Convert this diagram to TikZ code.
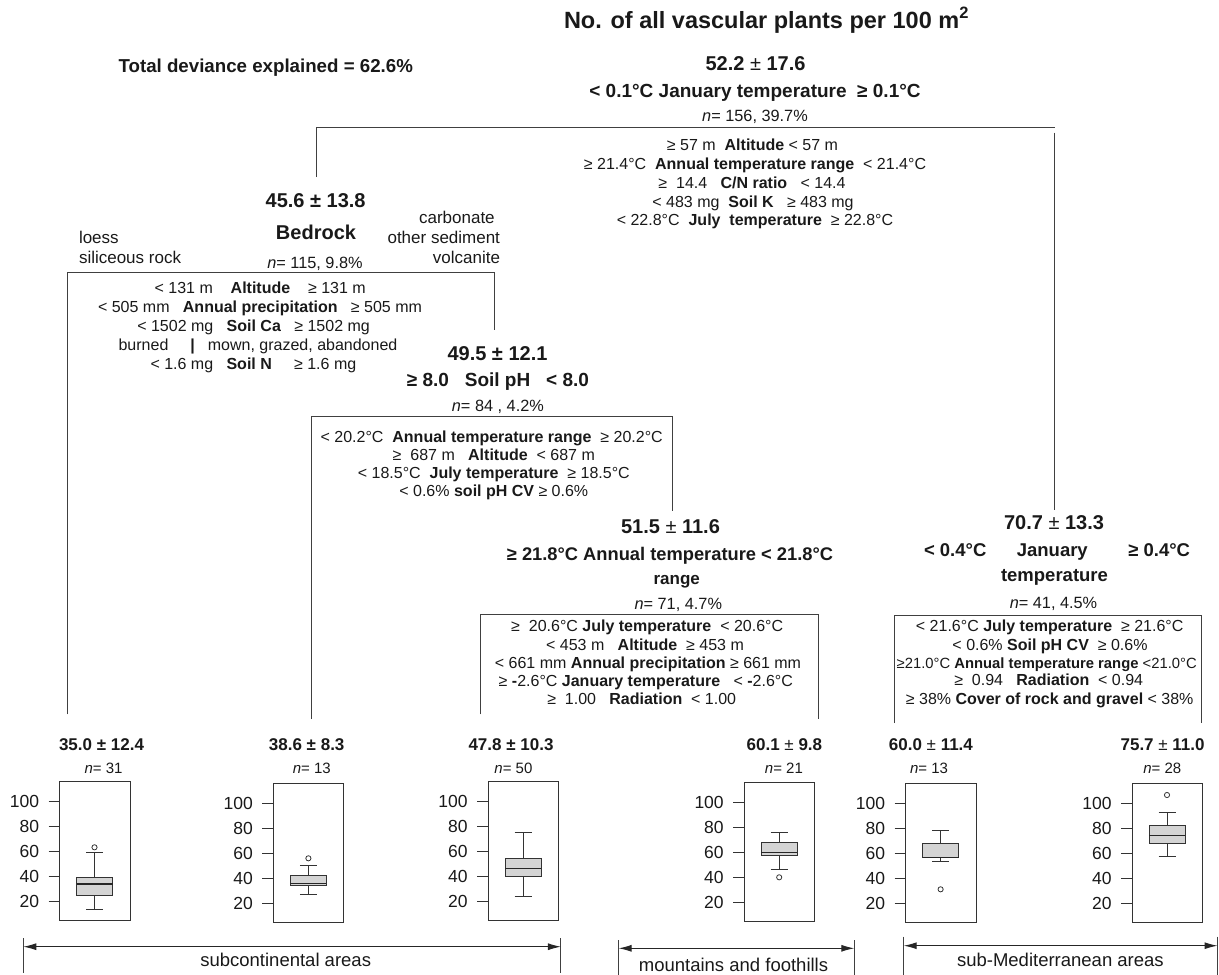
\documentclass[tikz,border=0pt]{standalone}
\usepackage{fontspec}
\setmainfont{Liberation Sans}
\usetikzlibrary{arrows.meta}
\newcommand\fs[1]{\fontsize{#1}{#1}\selectfont}
\tikzset{
 txt/.style={inner sep=0pt, outer sep=0pt, anchor=base, text=black!90},
 title/.style={txt, font=\fs{23.5}\bfseries},
 val/.style={txt, font=\fs{20}\bfseries},
 split/.style={txt, font=\fs{19}\bfseries},
 rule/.style={txt, font=\fs{16}},
 nlab/.style={txt, font=\fs{16.3}},
 side/.style={txt, font=\fs{17}},
 leafval/.style={txt, font=\fs{17}\bfseries},
 leafn/.style={txt, font=\fs{15}},
 axl/.style={txt, font=\fs{17.5}, anchor=east},
 region/.style={txt, font=\fs{18.5}},
 tree/.style={draw=black!75, line width=1pt},
 bxp/.style={draw=black!80, line width=0.8pt},
 bxfill/.style={bxp, fill=black!17},
 medline/.style={draw=black!85, line width=1.3pt},
 outl/.style={draw=black!80, line width=0.8pt},
 span/.style={draw=black!85, line width=1pt, {Latex[length=13pt,width=7pt]}-{Latex[length=13pt,width=7pt]}},
}
% #1 name, #2 frame left, #3 frame top, #4 low whisker, #5 q1, #6 median, #7 q3, #8 high whisker
\newcommand\leafplot[8]{%
\begin{scope}[shift={(#2,#3)}]
 \node[draw=black!80, line width=0.9pt, minimum width=70.5pt, minimum height=139pt, inner sep=0pt, outer sep=0pt, anchor=north west] (#1) at (0,0) {};
 \coordinate (#1-zero) at (35,145);
 \foreach \v in {20,40,60,80,100}{%
   \coordinate (#1-ta\v) at (-11,{145-1.25*\v});
   \coordinate (#1-tb\v) at (0,{145-1.25*\v});
   \draw[bxp] (#1-ta\v) -- (#1-tb\v);
   \node[axl] (#1-l\v) at (-20.5,{145-1.25*\v}) {\v};
 }
 \draw[bxp] (35,{145-1.25*#4}) -- (35,{145-1.25*#5});
 \draw[bxp] (26.5,{145-1.25*#4}) -- (43.5,{145-1.25*#4});
 \draw[bxp] (35,{145-1.25*#7}) -- (35,{145-1.25*#8});
 \draw[bxp] (26.5,{145-1.25*#8}) -- (43.5,{145-1.25*#8});
 \draw[bxfill] (17,{145-1.25*#5}) rectangle (53,{145-1.25*#7});
 \draw[medline] (17,{145-1.25*#6}) -- (53,{145-1.25*#6});
\end{scope}}
\begin{document}
\begin{tikzpicture}[x=1pt,y=-1pt]
\useasboundingbox (0,0) rectangle (1219,975);

% headings
\node[title, anchor=base west] (title) at (564,28) {No. of all vascular plants per 100 m\textsuperscript{2}};
\node[txt, font=\fs{18.7}\bfseries, anchor=base west] (dev) at (118.6,72) {Total deviance explained = 62.6\%};

% root node
\node[val] (n0) at (755.5,70.5) {52.2 {\mdseries ±} 17.6};
\node[split] (n0s) at (755,97.3) {< 0.1°C January temperature\ \ ≥ 0.1°C};
\node[nlab] (n0n) at (755,121.7) {\textit{n}= 156, 39.7\%};
\node[rule] (r1) at (752.5,150.7) {≥ 57 m\ \ \textbf{Altitude} < 57 m};
\node[rule] (r2) at (755,169.5) {≥ 21.4°C\ \ \textbf{Annual temperature range}\ \ < 21.4°C};
\node[rule] (r3) at (752,188.5) {≥\ \ 14.4\ \ \ \textbf{C/N ratio}\ \ \ < 14.4};
\node[rule] (r4) at (753,207) {< 483 mg\ \ \textbf{Soil K}\ \ \ ≥ 483 mg};
\node[rule] (r5) at (755,225.7) {< 22.8°C\ \ \textbf{July\ \ temperature}\ \ ≥ 22.8°C};

% bedrock node
\node[val] (n1) at (315.6,207) {45.6 ± 13.8};
\node[txt, font=\fs{20}\bfseries] (n1s) at (316,239) {Bedrock};
\node[nlab] (n1n) at (315,268) {\textit{n}= 115, 9.8\%};
\node[side, anchor=base west] (lo1) at (79,243) {loess};
\node[side, anchor=base west] (lo2) at (79,263) {siliceous rock};
\node[side, anchor=base east] (ca1) at (494.7,223) {carbonate};
\node[side, anchor=base east] (ca2) at (500,243) {other sediment};
\node[side, anchor=base east] (ca3) at (500,263) {volcanite};
\node[rule] (b1r1) at (260.2,293) {< 131 m\ \ \ \ \textbf{Altitude}\ \ \ \ ≥ 131 m};
\node[rule] (b1r2) at (260,312) {< 505 mm\ \ \ \textbf{Annual precipitation}\ \ \ ≥ 505 mm};
\node[rule] (b1r3) at (253.6,331.7) {< 1502 mg\ \ \ \textbf{Soil Ca}\ \ \ ≥ 1502 mg};
\node[rule, anchor=base west] (b1r4) at (118.6,350) {burned\hspace{22pt}\textbf{|}\hspace{13pt}mown, grazed, abandoned};
\node[rule] (b1r5) at (253.4,369) {< 1.6 mg\ \ \ \textbf{Soil N}\ \ \ \ \ ≥ 1.6 mg};

% soil pH node
\node[val] (n2) at (497.5,360) {49.5 ± 12.1};
\node[split] (n2s) at (497.9,386.7) {≥ 8.0\ \ \ Soil pH\ \ \ < 8.0};
\node[nlab] (n2n) at (497.9,411.7) {\textit{n}= 84 , 4.2\%};
\node[rule] (b2r1) at (491.7,442.7) {< 20.2°C\ \ \textbf{Annual temperature range}\ \ ≥ 20.2°C};
\node[rule] (b2r2) at (493.8,460) {≥\ \ 687 m\ \ \ \textbf{Altitude}\ \ < 687 m};
\node[rule] (b2r3) at (493.8,478.3) {< 18.5°C\ \ \textbf{July temperature}\ \ ≥ 18.5°C};
\node[rule] (b2r4) at (493.8,496.7) {< 0.6\% \textbf{soil pH CV} ≥ 0.6\%};

% annual temperature range node
\node[val] (n3) at (670.5,533.5) {51.5 {\mdseries ±} 11.6};
\node[txt, font=\fs{18.3}\bfseries] (n3s) at (670,560) {≥ 21.8°C Annual temperature < 21.8°C};
\node[txt, font=\fs{17}\bfseries] (n3r) at (676.7,584) {range};
\node[nlab] (n3n) at (678.3,609.3) {\textit{n}= 71, 4.7\%};
\node[rule] (b3r1) at (647.2,631.7) {≥\ \ 20.6°C \textbf{July temperature}\ \ < 20.6°C};
\node[rule] (b3r2) at (645,650) {< 453 m\ \ \ \textbf{Altitude}\ \ ≥ 453 m};
\node[rule] (b3r3) at (648,668.3) {< 661 mm \textbf{Annual precipitation} ≥ 661 mm};
\node[rule] (b3r4) at (645.8,686) {≥ \textbf{-}2.6°C \textbf{January temperature}\ \ \ < \textbf{-}2.6°C};
\node[rule] (b3r5) at (641.7,704) {≥\ \ 1.00\ \ \ \textbf{Radiation}\ \ < 1.00};

% January temperature node (right)
\node[val] (n4) at (1054,529.3) {70.7 {\mdseries ±} 13.3};
\node[txt, font=\fs{18.5}\bfseries, anchor=base west] (n4a) at (924,556.5) {< 0.4°C};
\node[txt, font=\fs{18.5}\bfseries] (n4s) at (1052.3,556.5) {January};
\node[txt, font=\fs{18.5}\bfseries, anchor=base west] (n4b) at (1128.3,556.5) {≥ 0.4°C};
\node[txt, font=\fs{18.5}\bfseries] (n4t) at (1054.5,581.5) {temperature};
\node[nlab] (n4n) at (1053.5,608.3) {\textit{n}= 41, 4.5\%};
\node[rule] (b4r1) at (1049.7,631.7) {< 21.6°C \textbf{July temperature}\ \ ≥ 21.6°C};
\node[rule] (b4r2) at (1050,650) {< 0.6\% \textbf{Soil pH CV}\ \ ≥ 0.6\%};
\node[txt, font=\fs{14.8}] (b4r3) at (1046.7,668.3) {≥21.0°C \textbf{Annual temperature range} <21.0°C};
\node[rule] (b4r4) at (1048.7,685.7) {≥\ \ 0.94\ \ \ \textbf{Radiation}\ \ < 0.94};
\node[rule] (b4r5) at (1049.7,704) {≥ 38\% \textbf{Cover of rock and gravel} < 38\%};

% tree connectors
\coordinate (rL) at (316,127);
\coordinate (rR) at (1054.6,127);
\coordinate (rLd) at (316,177);
\coordinate (rRt) at (1054.6,132.7);
\coordinate (rRd) at (1054.6,510);
\draw[tree] (rLd) -- (rL) -- (rR);
\draw[tree] (rRt) -- (rRd);

\coordinate (b1tl) at (67.3,272);
\coordinate (b1tr) at (494,272);
\coordinate (b1rd) at (494,330);
\coordinate (b1ld) at (67.3,714.3);
\draw[tree] (b1ld) -- (b1tl) -- (b1tr) -- (b1rd);

\coordinate (b2tl) at (311.5,416.7);
\coordinate (b2tr) at (672,416.7);
\coordinate (b2rd) at (672,510.7);
\coordinate (b2ld) at (311.5,719);
\draw[tree] (b2ld) -- (b2tl) -- (b2tr) -- (b2rd);

\coordinate (b3tl) at (480.3,614);
\coordinate (b3tr) at (818.5,614);
\coordinate (b3ld) at (480.3,714.3);
\coordinate (b3rd) at (818.5,719);
\draw[tree] (b3ld) -- (b3tl) -- (b3tr) -- (b3rd);

\coordinate (b4tl) at (894.5,615);
\coordinate (b4tr) at (1201,615);
\coordinate (b4ld) at (894.5,723);
\coordinate (b4rd) at (1201,723);
\draw[tree] (b4ld) -- (b4tl) -- (b4tr) -- (b4rd);

% leaves
\node[leafval] (v1) at (101.5,750.7) {35.0 ± 12.4};
\node[leafn] (k1) at (103.5,773.3) {\textit{n}= 31};
\node[leafval] (v2) at (306.7,750) {38.6 ± 8.3};
\node[leafn] (k2) at (311.8,773) {\textit{n}= 13};
\node[leafval] (v3) at (511,750) {47.8 ± 10.3};
\node[leafn] (k3) at (513.4,773) {\textit{n}= 50};
\node[leafval] (v4) at (784.4,750.7) {60.1 {\mdseries ±} 9.8};
\node[leafn] (k4) at (783.9,773) {\textit{n}= 21};
\node[leafval] (v5) at (930.9,750.7) {60.0 {\mdseries ±} 11.4};
\node[leafn] (k5) at (929,773) {\textit{n}= 13};
\node[leafval] (v6) at (1162.6,750.7) {75.7 {\mdseries ±} 11.0};
\node[leafn] (k6) at (1162.3,773) {\textit{n}= 28};

\leafplot{L1}{59.5}{781.7}{14}{25.3}{34.1}{39.5}{59.5}
\leafplot{L2}{273.4}{783.3}{27}{34}{35.7}{42}{50.6}
\leafplot{L3}{488}{781.7}{24.6}{40.6}{46.7}{54.7}{75.8}
\leafplot{L4}{744.2}{782.3}{46.4}{57.6}{59.7}{68}{76}
\leafplot{L5}{905.6}{783.3}{53.3}{56.5}{56.5}{67.7}{78.6}
\leafplot{L6}{1132}{783.3}{57.3}{67.7}{74.4}{82}{92.8}

\draw[outl] ([yshift=79.4pt]L1-zero) circle (2.6pt);
\draw[outl] ([yshift=70pt]L2-zero) circle (2.6pt);
\draw[outl] ([yshift=50pt]L4-zero) circle (2.6pt);
\draw[outl] ([yshift=39pt]L5-zero) circle (2.6pt);
\draw[outl] ([yshift=133.3pt]L6-zero) circle (2.6pt);

% regions
\coordinate (s1a) at (23.3,946.7);
\coordinate (s1b) at (560.9,946.7);
\coordinate (s1at) at (23.3,938);
\coordinate (s1ab) at (23.3,972.7);
\coordinate (s1bt) at (560.9,938);
\coordinate (s1bb) at (560.9,972.7);
\draw[tree] (s1at) -- (s1ab);
\draw[tree] (s1bt) -- (s1bb);
\draw[span] (s1a) -- (s1b);
\node[region] (reg1) at (285.7,966.7) {subcontinental areas};

\coordinate (s2a) at (618.6,948.3);
\coordinate (s2b) at (854.3,948.3);
\coordinate (s2at) at (618.6,940);
\coordinate (s2ab) at (618.6,975);
\coordinate (s2bt) at (854.3,940);
\coordinate (s2bb) at (854.3,975);
\draw[tree] (s2at) -- (s2ab);
\draw[tree] (s2bt) -- (s2bb);
\draw[span] (s2a) -- (s2b);
\node[region] (reg2) at (733.5,971.7) {mountains and foothills};

\coordinate (s3a) at (903.7,945.7);
\coordinate (s3b) at (1217.5,945.7);
\coordinate (s3at) at (903.7,936.7);
\coordinate (s3ab) at (903.7,975);
\coordinate (s3bt) at (1217.5,936.7);
\coordinate (s3bb) at (1217.5,975);
\draw[tree] (s3at) -- (s3ab);
\draw[tree] (s3bt) -- (s3bb);
\draw[span] (s3a) -- (s3b);
\node[region] (reg3) at (1060.4,966.7) {sub-Mediterranean areas};
\end{tikzpicture}
\end{document}
